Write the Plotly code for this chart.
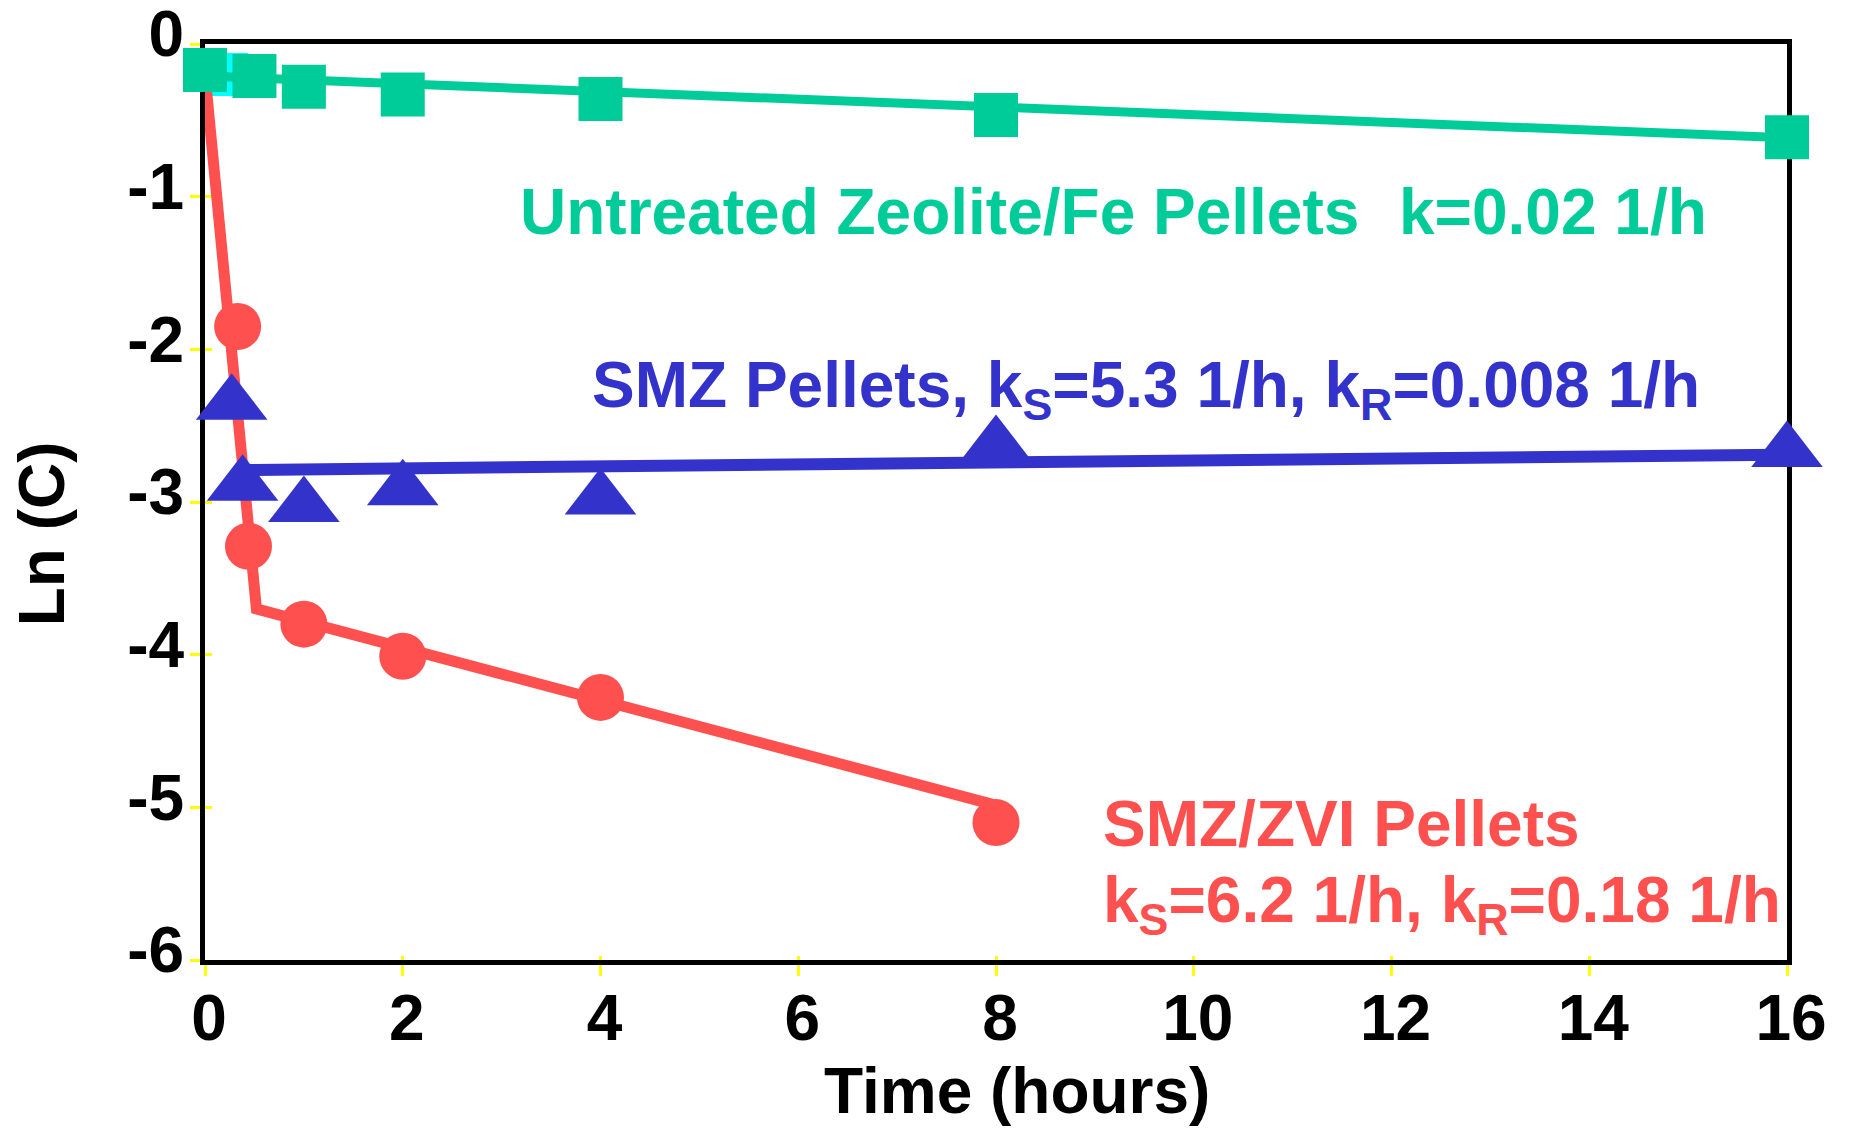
import plotly.graph_objects as go

# Sampling times (hours) and ln(C) measurements for each pellet type
zeolite_t = [0, 0.5, 1, 2, 4, 8, 16]
zeolite_lnc = [-0.17, -0.21, -0.28, -0.33, -0.36, -0.465, -0.61]

zeolite_early_t = [0.22]
zeolite_early_lnc = [-0.2]

smz_t = [0.27, 0.38, 1, 2, 4, 8, 16]
smz_lnc = [-2.36, -2.89, -3.03, -2.92, -2.98, -2.63, -2.67]

zvi_t = [0.33, 0.44, 1, 2, 4, 8]
zvi_lnc = [-1.85, -3.29, -3.80, -4.01, -4.28, -5.10]

# Fitted first-order lines (fast sorption stage + slow reaction stage)
zeolite_fit_t = [0, 16]
zeolite_fit_lnc = [-0.21, -0.615]

smz_fit_t = [0.45, 16]
smz_fit_lnc = [-2.79, -2.69]

zvi_fit_t = [0, 0.52, 8.08]
zvi_fit_lnc = [-0.2, -3.7, -5.0]

# Axis ticks
x_ticks = [0, 2, 4, 6, 8, 10, 12, 14, 16]
x_tick_text = ["0", "2", "4", "6", "8", "10", "12", "14", "16"]
y_ticks = [0, -1, -2, -3, -4, -5, -6]
y_tick_text = ["0", "-1", "-2", "-3", "-4", "-5", "-6"]

GREEN = "#00CC99"
BLUE = "#3333CC"
RED = "#FF5050"
CYAN = "#00FFFF"
YELLOW = "#FFFF00"
FONT = "Liberation Sans, Arial, sans-serif"

fig = go.Figure()

fig.add_trace(go.Scatter(x=zeolite_early_t, y=zeolite_early_lnc, mode="markers",
                         marker=dict(symbol="square", size=43, color=CYAN),
                         cliponaxis=False, showlegend=False))

fig.add_trace(go.Scatter(x=zvi_fit_t, y=zvi_fit_lnc, mode="lines",
                         line=dict(color=RED, width=11),
                         cliponaxis=False, showlegend=False))
fig.add_trace(go.Scatter(x=zvi_t, y=zvi_lnc, mode="markers",
                         marker=dict(symbol="circle", size=47, color=RED),
                         cliponaxis=False, showlegend=False))

fig.add_trace(go.Scatter(x=smz_fit_t, y=smz_fit_lnc, mode="lines",
                         line=dict(color=BLUE, width=12),
                         cliponaxis=False, showlegend=False))
fig.add_trace(go.Scatter(x=smz_t, y=smz_lnc, mode="markers",
                         marker=dict(symbol="triangle-up", size=62, color=BLUE),
                         cliponaxis=False, showlegend=False))

fig.add_trace(go.Scatter(x=zeolite_fit_t, y=zeolite_fit_lnc, mode="lines",
                         line=dict(color=GREEN, width=9),
                         cliponaxis=False, showlegend=False))
fig.add_trace(go.Scatter(x=zeolite_t, y=zeolite_lnc, mode="markers",
                         marker=dict(symbol="square", size=44, color=GREEN),
                         cliponaxis=False, showlegend=False))

# Empty trace carrying the overlay axes that draw the inner halves of the ticks
fig.add_trace(go.Scatter(x=[], y=[], xaxis="x2", yaxis="y2", showlegend=False,
                         hoverinfo="skip"))

tick_font = dict(family=FONT, size=64, color="black", weight="bold")

fig.update_layout(
    xaxis=dict(range=[0, 16], tickmode="array", tickvals=x_ticks, ticktext=x_tick_text,
               showline=True, linecolor="black", linewidth=5, mirror=True,
               ticks="outside", ticklen=11, tickwidth=3, tickcolor=YELLOW,
               showgrid=False, zeroline=False, tickfont=tick_font,
               ticklabelshift=4, ticklabelstandoff=-13, ticklabeloverflow="allow",
               automargin=False, layer="below traces"),
    yaxis=dict(range=[-6, 0], tickmode="array", tickvals=y_ticks, ticktext=y_tick_text,
               showline=True, linecolor="black", linewidth=5, mirror=True,
               ticks="outside", ticklen=10, tickwidth=3, tickcolor=YELLOW,
               showgrid=False, zeroline=False, tickfont=tick_font,
               ticklabelshift=-10, ticklabelstandoff=-7, ticklabeloverflow="allow",
               automargin=False, layer="below traces"),
    xaxis2=dict(range=[0, 16], overlaying="x", anchor="y2", side="bottom",
                tickmode="array", tickvals=x_ticks, showticklabels=False,
                ticks="inside", ticklen=4, tickwidth=3, tickcolor=YELLOW,
                showline=False, showgrid=False, zeroline=False,
                automargin=False, layer="below traces"),
    yaxis2=dict(range=[-6, 0], overlaying="y", anchor="x2", side="left",
                tickmode="array", tickvals=y_ticks, showticklabels=False,
                ticks="inside", ticklen=7, tickwidth=3, tickcolor=YELLOW,
                showline=False, showgrid=False, zeroline=False,
                automargin=False, layer="below traces"),
)

# Thin yellow rule just beneath the time axis
fig.add_shape(type="line", xref="paper", x0=-0.007, x1=1.0,
              yref="y", ysizemode="pixel", yanchor=-6, y0=-4, y1=-4,
              line=dict(color=YELLOW, width=2), layer="below")

label_font = dict(family=FONT, size=64, weight="bold")


def note(text, x, y, color):
    fig.add_annotation(text=text, x=x, y=y, xref="paper", yref="paper",
                       xanchor="left", yanchor="top", showarrow=False,
                       font=dict(label_font, color=color))


note("Untreated Zeolite/Fe Pellets", 0.198, 0.858, GREEN)
note("k=0.02 1/h", 0.7532, 0.858, GREEN)
note("SMZ Pellets, k<sub>S</sub>=5.3 1/h, k<sub>R</sub>=0.008 1/h", 0.2435, 0.6696, BLUE)
note("SMZ/ZVI Pellets", 0.5665, 0.1895, RED)
note("k<sub>S</sub>=6.2 1/h, k<sub>R</sub>=0.18 1/h", 0.5665, 0.1068, RED)

# Axis titles
fig.add_annotation(text="Ln (C)", x=-0.1034, y=0.4652, xref="paper", yref="paper",
                   xanchor="center", yanchor="middle", textangle=-90, showarrow=False,
                   font=dict(family=FONT, size=64, color="black", weight="bold"))
fig.add_annotation(text="Time (hours)", x=0.513, y=-0.1435, xref="paper", yref="paper",
                   xanchor="center", yanchor="middle", showarrow=False,
                   font=dict(family=FONT, size=64, color="black", weight="bold"))

fig.update_layout(width=1855, height=1129, autosize=False,
                  margin=dict(l=205, r=68, t=44, b=169, autoexpand=False),
                  plot_bgcolor="white", paper_bgcolor="white",
                  showlegend=False)

fig.write_html("out.html")
